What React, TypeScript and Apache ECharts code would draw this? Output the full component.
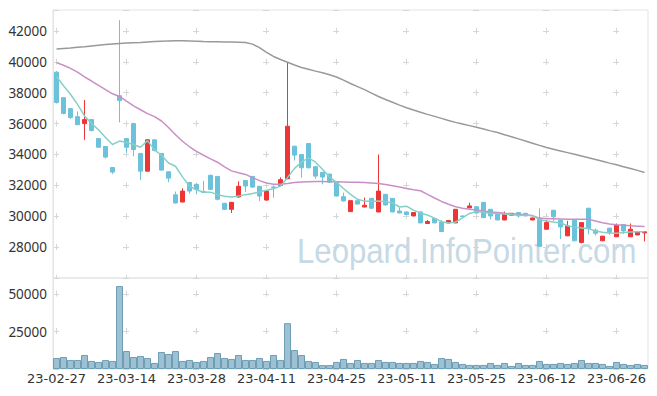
import React, { useEffect, useRef } from "react";
import * as echarts from "echarts";

const dates = [
  "23-02-27", "23-02-28", "23-03-02", "23-03-03", "23-03-06", "23-03-07", "23-03-08", "23-03-09", "23-03-10", "23-03-13",
  "23-03-14", "23-03-15", "23-03-16", "23-03-17", "23-03-20", "23-03-21", "23-03-22", "23-03-23", "23-03-24", "23-03-27",
  "23-03-28", "23-03-29", "23-03-30", "23-03-31", "23-04-03", "23-04-04", "23-04-05", "23-04-06", "23-04-07", "23-04-10",
  "23-04-11", "23-04-12", "23-04-13", "23-04-14", "23-04-17", "23-04-18", "23-04-19", "23-04-20", "23-04-21", "23-04-24",
  "23-04-25", "23-04-26", "23-04-27", "23-04-28", "23-05-02", "23-05-03", "23-05-04", "23-05-08", "23-05-09", "23-05-10",
  "23-05-11", "23-05-12", "23-05-15", "23-05-16", "23-05-17", "23-05-18", "23-05-19", "23-05-22", "23-05-23", "23-05-24",
  "23-05-25", "23-05-26", "23-05-30", "23-05-31", "23-06-01", "23-06-02", "23-06-05", "23-06-07", "23-06-08", "23-06-09",
  "23-06-12", "23-06-13", "23-06-14", "23-06-15", "23-06-16", "23-06-19", "23-06-20", "23-06-21", "23-06-22", "23-06-23",
  "23-06-26", "23-06-27", "23-06-28", "23-06-29", "23-06-30",
];

const opens = [
  39330, 37680, 36970, 36450, 36000, 36260, 35030, 34520, 33160, 37810,
  35030, 36000, 34070, 32920, 34950, 34070, 32880, 31390, 30920, 32190,
  32070, 31600, 32650, 32580, 30840, 30450, 31250, 32320, 32580, 31940,
  31050, 31900, 32000, 32430, 34540, 34000, 34710, 33210, 32840, 32730,
  32210, 31270, 30300, 31010, 30600, 31160, 30280, 31420, 31160, 30340,
  30280, 30020, 30280, 29530, 29850, 29630, 29570, 29570, 30020, 30540,
  30620, 30900, 30450, 30150, 29760, 30070, 30240, 30190, 29760, 29850,
  29160, 30390, 29740, 28730, 29740, 28300, 30520, 29100, 28410, 29230,
  28670, 29470, 28670, 28790, 28920,
];
const closes = [
  37370, 36660, 36400, 35930, 36260, 35550, 34470, 33830, 32860, 37500,
  34470, 34320, 32920, 34950, 34260, 32990, 32470, 30860, 31630, 31630,
  31740, 31540, 31740, 31100, 30450, 30900, 31940, 31960, 31890, 31310,
  31630, 31860, 32370, 35830, 33960, 33140, 33140, 32600, 32540, 32210,
  31310, 30990, 31010, 30790, 30710, 30520, 31630, 30730, 30280, 30210,
  30110, 30240, 29570, 29660, 29570, 29010, 29720, 30450, 29980, 30670,
  30210, 29910, 30020, 29760, 30150, 30190, 30020, 30020, 29890, 28050,
  29590, 29960, 29310, 29370, 28410, 29590, 29200, 28900, 28710, 28950,
  29420, 29050, 29160, 28990, 28990,
];
const lows = [
  37300, 36600, 36300, 35900, 34950, 35500, 34450, 33740, 32730, 36080,
  34110, 33890, 32340, 32900, 34200, 32950, 32210, 30830, 30900, 31460,
  31420, 31500, 31700, 31030, 30400, 30210, 31200, 31570, 31850, 30990,
  31000, 31200, 31950, 32400, 33610, 32500, 33100, 32430, 32070, 32180,
  31280, 30960, 30280, 30770, 30580, 30490, 30260, 30700, 30250, 30190,
  30090, 30000, 29550, 29510, 29550, 28990, 29550, 29550, 29960, 30520,
  30190, 29890, 29800, 29740, 29740, 30050, 29920, 30000, 29740, 28030,
  29140, 29700, 28520, 28710, 28390, 28240, 28840, 28750, 28390, 28790,
  28650, 28860, 28650, 28770, 28370,
];
const highs = [
  39400, 37700, 37000, 36790, 37530, 36300, 35050, 34550, 33180, 42700,
  35050, 36050, 34100, 35000, 34980, 34100, 32900, 31600, 31810, 32220,
  32100, 32300, 32700, 32600, 30870, 30930, 32260, 32350, 32600, 31960,
  31700, 32000, 32520, 39950, 34560, 34020, 34730, 33230, 32860, 32750,
  32230, 31530, 31030, 31030, 31210, 31180, 34000, 31440, 31180, 30560,
  30300, 30260, 30300, 29760, 29870, 29740, 29740, 30470, 30040, 30880,
  30640, 30920, 30470, 30170, 30300, 30210, 30260, 30210, 29910, 30500,
  29740, 30410, 29760, 29700, 29760, 29610, 30540, 29200, 28730, 29250,
  29530, 29490, 29530, 29010, 29000,
];

const volumes = [
  7360, 8020, 6030, 6030, 9350, 5370, 4710, 6030, 5370, 55290,
  12000, 8020, 8690, 7360, 4040, 11340, 10010, 12000, 5370, 6030,
  4710, 5370, 8020, 10670, 7360, 6700, 9350, 6030, 6030, 7360,
  5370, 9350, 6030, 30560, 12660, 9350, 5370, 4710, 2600, 2600,
  4710, 6700, 4040, 6030, 4040, 4040, 6030, 4710, 4710, 4040,
  4040, 4040, 5370, 4710, 3380, 7360, 6700, 4710, 3380, 2720,
  2720, 2720, 4040, 2720, 4040, 2060, 4040, 2720, 2720, 5370,
  3380, 3380, 4040, 3380, 4040, 6030, 4040, 4040, 3380, 2060,
  4710, 3380, 2720, 3380, 2720,
];

const ma5 = [
  39050, 38450, 37900, 37250, 36500, 36000, 35600, 35100, 34650, 34870,
  34780, 34650, 34470, 34900, 34300, 33950, 33450, 33240, 32550, 31950,
  31700, 31570, 31560, 31400, 31300, 31240, 31310, 31400, 31470, 31580,
  31680, 31780, 31950, 32500, 33100, 33500, 33780, 33500, 33050, 32550,
  32200, 31800, 31420, 31100, 30980, 30950, 30990, 30940, 30860, 30600,
  30650, 30400, 30200, 30080, 29880, 29650, 29560, 29620, 29900, 30180,
  30300, 30260, 30200, 30170, 30140, 30090, 30070, 30060, 30050, 29780,
  29690, 29620, 29560, 29380, 29280, 29240, 29200, 29040, 28960, 28920,
  28900, 28940, 28980, 28990, 28990,
];
const ma20 = [
  39950, 39780, 39580, 39330, 39030, 38760, 38480, 38200, 37930, 37760,
  37450, 37150, 36900, 36650, 36450, 36170, 35750, 35280, 34860, 34500,
  34200, 33950, 33720, 33500, 33200, 32940, 32820, 32710, 32500, 32310,
  32150, 32070, 32080, 32120, 32180, 32220, 32240, 32250, 32250, 32240,
  32230, 32220, 32210, 32200, 32180, 32160, 32120, 32060, 31980, 31900,
  31800, 31720, 31650, 31420, 31180, 30960, 30780, 30620, 30520, 30460,
  30410, 30340, 30280, 30250, 30200, 30160, 30130, 30090, 30040, 29880,
  29840, 29830, 29820, 29810, 29800, 29800, 29800, 29690, 29580, 29500,
  29450, 29420, 29390, 29360, 29330,
];
const ma120 = [
  40840, 40870, 40900, 40940, 40980, 41030, 41080, 41120, 41160, 41190,
  41220, 41240, 41260, 41290, 41320, 41340, 41360, 41370, 41370, 41360,
  41340, 41320, 41310, 41300, 41290, 41280, 41270, 41250, 41150, 40920,
  40620, 40350, 40150, 39980, 39800, 39640, 39520, 39400, 39290, 39160,
  39020, 38820, 38600, 38400, 38200, 37980, 37760, 37560, 37380, 37200,
  37030, 36880, 36740, 36600, 36470, 36340, 36200, 36080, 35980, 35870,
  35760, 35650, 35530, 35420, 35280, 35150, 35010, 34870, 34730, 34590,
  34450, 34340, 34230, 34120, 34010, 33900, 33790, 33680, 33560, 33440,
  33330, 33210, 33090, 32970, 32840,
];

const RED = "#ee3535";
const BLUE = "#6cc2da";
const FONT = "'Noto Sans', sans-serif";
const DATE_FONT = "'DejaVu Sans', sans-serif";

export default function App() {
  const ref = useRef<HTMLDivElement>(null);
  useEffect(() => {
    if (!ref.current) return;
    const chart = echarts.init(ref.current, undefined, { renderer: "svg" });
    const candles = dates.map((_, i) => [opens[i], closes[i], lows[i], highs[i]]);
    const gridDash = "#d6d6d6";
    chart.setOption({
      animation: false,
      backgroundColor: "#ffffff",
      grid: [
        { left: 53, right: 9, top: 10, height: 268, show: true, borderColor: "#e3e3e3", borderWidth: 1 },
        { left: 53, right: 9, top: 278, height: 91, show: true, borderColor: "#e3e3e3", borderWidth: 1 },
      ],
      xAxis: [
        {
          type: "category", gridIndex: 0, data: dates, boundaryGap: true,
          axisLine: { show: false }, axisTick: { show: false, interval: 9, alignWithLabel: true },
          axisLabel: { show: false, interval: 9 },
          splitLine: { show: true, interval: 9, alignWithLabel: true, lineStyle: { color: gridDash, width: 1, type: [6, 24.874], dashOffset: 12.874 } },
        },
        {
          type: "category", gridIndex: 1, data: dates, boundaryGap: true,
          axisLine: { show: false }, axisTick: { show: false, interval: 9, alignWithLabel: true },
          axisLabel: { interval: 9, color: "#333", fontSize: 13, margin: 3, fontFamily: DATE_FONT },
          splitLine: { show: true, interval: 9, alignWithLabel: true, lineStyle: { color: gridDash, width: 1, type: [6, 31.5], dashOffset: 24.5 } },
        },
      ],
      yAxis: [
        {
          type: "value", gridIndex: 0, min: 26000, max: 43360, interval: 2000,
          axisLine: { show: true, lineStyle: { color: "#e3e3e3" } }, axisTick: { show: false },
          axisLabel: { showMinLabel: false, showMaxLabel: false, color: "#333", fontSize: 13.5, margin: 6, fontFamily: FONT, formatter: (v: number) => String(v) },
          splitLine: { show: true, lineStyle: { color: gridDash, width: 1, type: [6, 64], dashOffset: 69.5 } },
        },
        {
          type: "value", gridIndex: 1, min: 0, max: 60667, interval: 25000,
          axisLine: { show: true, lineStyle: { color: "#e3e3e3" } }, axisTick: { show: false },
          axisLabel: { showMinLabel: false, showMaxLabel: false, color: "#333", fontSize: 13.5, margin: 6, fontFamily: FONT, formatter: (v: number) => String(v) },
          splitLine: { show: true, lineStyle: { color: gridDash, width: 1, type: [6, 64], dashOffset: 69.5 } },
        },
      ],
      graphic: [
        {
          type: "text", x: 297, y: 251, scaleX: 0.89, z: 1, silent: true,
          style: { text: "Leopard.InfoPointer.com", fontSize: 35, fontFamily: "'Liberation Sans', Arial, sans-serif", fill: "#c6d9e5", align: "left", verticalAlign: "middle" },
        },
      ],
      series: [
        {
          type: "candlestick", xAxisIndex: 0, yAxisIndex: 0, data: candles, barWidth: 5,
          itemStyle: { color: RED, color0: BLUE, borderColor: RED, borderColor0: BLUE, borderWidth: 1 },
        },
        { type: "line", xAxisIndex: 0, yAxisIndex: 0, data: ma120, symbol: "none", lineStyle: { color: "#999999", width: 1.5 } },
        { type: "line", xAxisIndex: 0, yAxisIndex: 0, data: ma20, symbol: "none", lineStyle: { color: "#c98fc6", width: 1.5 } },
        { type: "line", xAxisIndex: 0, yAxisIndex: 0, data: ma5, symbol: "none", lineStyle: { color: "#85d0c6", width: 1.5 } },
        {
          type: "bar", xAxisIndex: 1, yAxisIndex: 1, data: volumes, barCategoryGap: "0%",
          itemStyle: { color: "#9dc1d2", borderColor: "#6e9eb6", borderWidth: 1 },
        },
      ],
    });
    return () => chart.dispose();
  }, []);
  return <div ref={ref} style={{ position: "fixed", left: 0, top: 0, width: 657, height: 396 }} />;
}
